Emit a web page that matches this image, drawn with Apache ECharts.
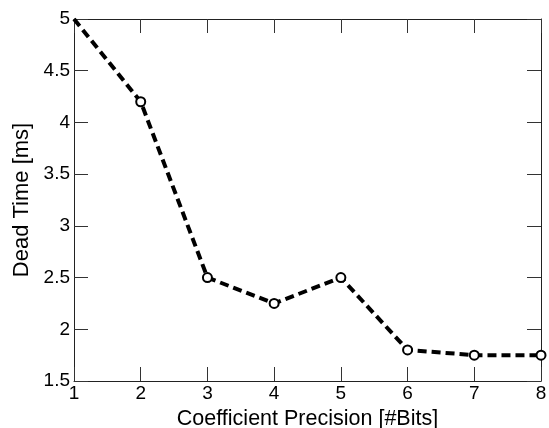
<!DOCTYPE html>
<html>
<head>
<meta charset="utf-8">
<script src="https://cdn.jsdelivr.net/npm/echarts@6/dist/echarts.min.js"></script>
<style>
  html, body { margin: 0; padding: 0; background: #fff; }
  #chart { width: 549px; height: 428px; }
</style>
</head>
<body>
<div id="chart"></div>
<script>
// Coefficient precision (bits) vs. dead time (ms)
var bits = [1, 2, 3, 4, 5, 6, 7, 8];
var deadTime = [5.0, 4.2, 2.5, 2.25, 2.5, 1.8, 1.75, 1.75];

var FONT = '"Liberation Sans", Arial, sans-serif';

var points = bits.map(function (b, i) {
  var item = { value: [b, deadTime[i]] };
  if (i === 0) item.symbol = 'none';
  return item;
});

var tickStyle = { show: true, inside: true, length: 14, lineStyle: { color: '#333', width: 1 } };
var lineStyle = { show: true, lineStyle: { color: '#222', width: 1 } };

var chart = echarts.init(document.getElementById('chart'), null, { renderer: 'canvas' });
chart.setOption({
  animation: false,
  backgroundColor: '#fff',
  grid: { left: 74, right: 8, top: 19, bottom: 47, containLabel: false, outerBoundsMode: 'none' },
  xAxis: [
    {
      type: 'value', min: 1, max: 8, interval: 1, position: 'bottom',
      name: 'Coefficient Precision [#Bits]', nameLocation: 'middle', nameGap: 20,
      nameTextStyle: { fontFamily: FONT, fontSize: 21.5, color: '#000' },
      axisLine: lineStyle, axisTick: tickStyle, splitLine: { show: false },
      axisLabel: { fontFamily: FONT, fontSize: 19, color: '#000', margin: 3 }
    },
    {
      type: 'value', min: 1, max: 8, interval: 1, position: 'top',
      axisLine: lineStyle, axisTick: tickStyle, splitLine: { show: false },
      axisLabel: { show: false }
    }
  ],
  yAxis: [
    {
      type: 'value', min: 1.5, max: 5, interval: 0.5, position: 'left',
      name: 'Dead Time [ms]', nameLocation: 'middle', nameGap: 36,
      nameTextStyle: { fontFamily: FONT, fontSize: 22, color: '#000' },
      axisLine: lineStyle, axisTick: tickStyle, splitLine: { show: false },
      axisLabel: { fontFamily: FONT, fontSize: 19, color: '#000', margin: 4 }
    },
    {
      type: 'value', min: 1.5, max: 5, interval: 0.5, position: 'right',
      axisLine: lineStyle, axisTick: tickStyle, splitLine: { show: false },
      axisLabel: { show: false }
    }
  ],
  series: [
    {
      type: 'line',
      xAxisIndex: 0,
      yAxisIndex: 0,
      data: points,
      symbol: 'emptyCircle',
      symbolSize: 9,
      showAllSymbol: true,
      clip: false,
      lineStyle: { color: '#000', width: 4, type: [9, 5] },
      itemStyle: { color: '#000', borderColor: '#000', borderWidth: 3.5 }
    }
  ]
});
</script>
</body>
</html>
